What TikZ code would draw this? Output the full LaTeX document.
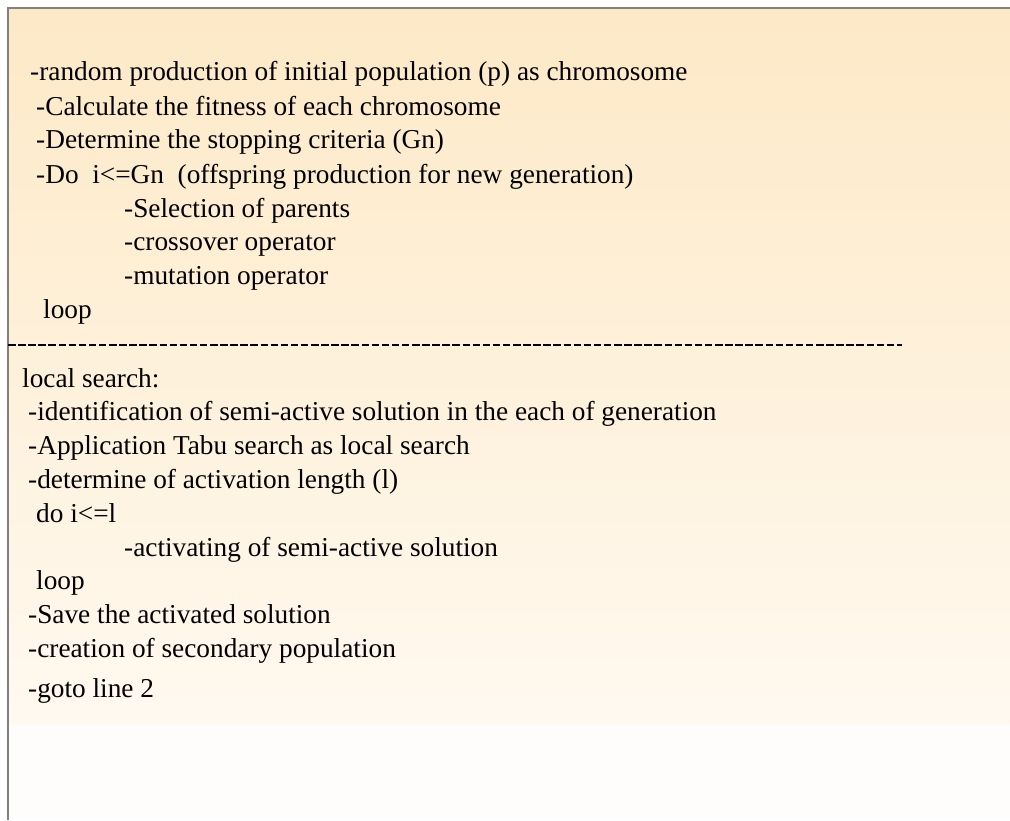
\documentclass[tikz,border=0pt]{standalone}
\usepackage{fontspec}
\setmainfont{Liberation Serif}
\definecolor{topc}{RGB}{253,233,198}
\definecolor{botc}{RGB}{255,249,240}
\definecolor{lowc}{RGB}{255,253,251}
\begin{document}
\begin{tikzpicture}[x=1pt,y=-1pt,
  txt/.style={anchor=base west,inner sep=0pt,font=\fontsize{27.3}{30}\selectfont},
  frame/.style={draw=black!50,line width=1.3pt}]
\useasboundingbox (0,0) rectangle (1010,820);
\fill[white] (0,0) rectangle (1010,820);
\shade[top color=topc,bottom color=botc] (8,8) rectangle (1010,725);
\fill[lowc] (8,725) rectangle (1010,820);
\draw[frame] (8,820) -- (8,8) -- (1010,8);
\node[txt] (l1) at (30,80) {-random production of initial population (p) as chromosome};
\node[txt] (l2) at (36,115) {-Calculate the fitness of each chromosome};
\node[txt] (l3) at (36,148) {-Determine the stopping criteria (Gn)};
\node[txt] (l4) at (36,183) {-Do\ \ i<=Gn\ \ (offspring production for new generation)};
\node[txt] (l5) at (124,217) {-Selection of parents};
\node[txt] (l6) at (124,250) {-crossover operator};
\node[txt] (l7) at (124,284) {-mutation operator};
\node[txt] (l8) at (43,318) {loop};
\coordinate (dA) at (8,345);
\coordinate (dB) at (902,345);
\draw[line width=2.4pt,dash pattern=on 7.5pt off 2.6pt] (dA) -- (dB);
\node[txt] (m1) at (22,387) {local search:};
\node[txt] (m2) at (28,420) {-identification of semi-active solution in the each of generation};
\node[txt] (m3) at (28,454) {-Application Tabu search as local search};
\node[txt] (m4) at (28,488) {-determine of activation length (l)};
\node[txt] (m5) at (36,522) {do i<=l};
\node[txt] (m6) at (124,556) {-activating of semi-active solution};
\node[txt] (m7) at (36,589) {loop};
\node[txt] (m8) at (28,623) {-Save the activated solution};
\node[txt] (m9) at (28,657) {-creation of secondary population};
\node[txt] (m10) at (28,697) {-goto line 2};
\end{tikzpicture}
\end{document}
